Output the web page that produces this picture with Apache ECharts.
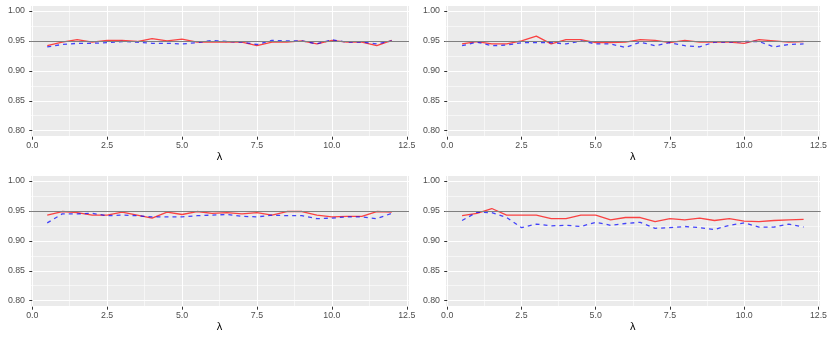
<!DOCTYPE html>
<html>
<head>
<meta charset="utf-8">
<script src="https://cdn.jsdelivr.net/npm/echarts@6/dist/echarts.min.js"></script>
<style>
html,body{margin:0;padding:0;background:#fff;}
#c{width:830px;height:340px;}
</style>
</head>
<body>
<div id="c"></div>
<script>
const lambda = [0.5,1,1.5,2,2.5,3,3.5,4,4.5,5,5.5,6,6.5,7,7.5,8,8.5,9,9.5,10,10.5,11,11.5,12];

const p1Red  = [0.942,0.948,0.952,0.948,0.951,0.951,0.949,0.954,0.950,0.953,0.948,0.948,0.948,0.948,0.942,0.948,0.948,0.950,0.945,0.951,0.948,0.948,0.942,0.951];
const p1Blue = [0.940,0.944,0.946,0.946,0.947,0.949,0.948,0.946,0.946,0.945,0.947,0.951,0.949,0.948,0.944,0.951,0.950,0.950,0.945,0.952,0.948,0.948,0.945,0.950];

const p2Red  = [0.945,0.949,0.945,0.945,0.950,0.958,0.945,0.952,0.952,0.947,0.947,0.948,0.952,0.951,0.947,0.951,0.948,0.948,0.948,0.946,0.952,0.950,0.948,0.949];
const p2Blue = [0.942,0.948,0.942,0.943,0.947,0.947,0.947,0.945,0.950,0.945,0.945,0.939,0.948,0.942,0.947,0.942,0.940,0.948,0.948,0.949,0.949,0.940,0.944,0.945];

const p3Red  = [0.943,0.949,0.947,0.943,0.943,0.948,0.943,0.938,0.948,0.944,0.949,0.946,0.947,0.945,0.947,0.943,0.949,0.949,0.943,0.940,0.941,0.941,0.949,0.948];
const p3Blue = [0.930,0.945,0.945,0.946,0.942,0.943,0.942,0.940,0.940,0.940,0.942,0.943,0.944,0.941,0.940,0.943,0.942,0.942,0.937,0.938,0.940,0.940,0.937,0.946];

const p4Red  = [0.942,0.946,0.954,0.943,0.943,0.943,0.937,0.937,0.943,0.943,0.935,0.939,0.939,0.932,0.937,0.935,0.938,0.934,0.937,0.933,0.932,0.934,0.935,0.936];
const p4Blue = [0.934,0.948,0.947,0.939,0.922,0.928,0.925,0.926,0.924,0.931,0.926,0.929,0.931,0.921,0.922,0.924,0.922,0.919,0.926,0.930,0.923,0.923,0.928,0.923];

const xTickStep = 2.5;
const yTickStep = 0.05;
const targetLevel = 0.95;
const xTitle = 'λ';

const panels = [
  {red: p1Red, blue: p1Blue, left: 30, top: 5},
  {red: p2Red, blue: p2Blue, left: 445, top: 5},
  {red: p3Red, blue: p3Blue, left: 30, top: 175},
  {red: p4Red, blue: p4Blue, left: 445, top: 175}
];

const PW = 379, PH = 131.7;
const grid = [], xAxis = [], yAxis = [], series = [];

function isMultiple(v, step) {
  const r = v / step;
  return Math.abs(r - Math.round(r)) < 1e-6;
}

panels.forEach((p, i) => {
  grid.push({
    left: p.left, top: p.top, width: PW, height: PH,
    show: true, backgroundColor: '#EBEBEB', borderWidth: 0
  });
  xAxis.push({
    type: 'value', gridIndex: i,
    min: -0.075, max: 12.575,
    minInterval: xTickStep, maxInterval: xTickStep,
    name: xTitle, nameLocation: 'middle', nameGap: 14,
    nameTextStyle: {color: '#000', fontSize: 11, fontFamily: 'Liberation Sans'},
    axisLine: {show: false},
    axisTick: {show: true, length: 3, lineStyle: {color: '#333333', width: 1}},
    axisLabel: {
      show: true, margin: 4.5, color: '#4D4D4D', fontSize: 8.8, fontFamily: 'Liberation Sans',
      showMinLabel: false, showMaxLabel: false,
      formatter: v => isMultiple(v, xTickStep) ? v.toFixed(1) : ''
    },
    splitLine: {show: true, lineStyle: {color: '#FFFFFF', width: 1.1}},
    minorTick: {show: false, splitNumber: 2},
    minorSplitLine: {show: true, lineStyle: {color: '#FFFFFF', width: 0.55}}
  });
  yAxis.push({
    type: 'value', gridIndex: i,
    min: 0.79, max: 1.01,
    minInterval: yTickStep, maxInterval: yTickStep,
    axisLine: {show: false},
    axisTick: {show: true, length: 3, lineStyle: {color: '#333333', width: 1}},
    axisLabel: {
      show: true, margin: 5, color: '#4D4D4D', fontSize: 8.8, fontFamily: 'Liberation Sans',
      showMinLabel: false, showMaxLabel: false,
      formatter: v => isMultiple(v, yTickStep) ? v.toFixed(2) : ''
    },
    splitLine: {show: true, lineStyle: {color: '#FFFFFF', width: 1.1}},
    minorTick: {show: false, splitNumber: 2},
    minorSplitLine: {show: true, lineStyle: {color: '#FFFFFF', width: 0.55}}
  });
  series.push({
    type: 'line', xAxisIndex: i, yAxisIndex: i,
    data: lambda.map((x, k) => [x, p.red[k]]),
    symbol: 'none', silent: true,
    lineStyle: {color: 'rgba(255,0,0,0.72)', width: 1.3, type: 'solid'},
    markLine: {
      silent: true, symbol: 'none', label: {show: false},
      lineStyle: {color: '#7F7F7F', width: 1.2, type: 'solid'},
      data: [{yAxis: targetLevel}]
    },
    z: 3
  });
  series.push({
    type: 'line', xAxisIndex: i, yAxisIndex: i,
    data: lambda.map((x, k) => [x, p.blue[k]]),
    symbol: 'none', silent: true,
    lineStyle: {color: 'rgba(0,0,255,0.72)', width: 1.3, type: [4, 4]},
    z: 4
  });
});

const chart = echarts.init(document.getElementById('c'), null, {renderer: 'canvas'});
chart.setOption({
  animation: false,
  backgroundColor: '#FFFFFF',
  grid, xAxis, yAxis, series
});
</script>
</body>
</html>
